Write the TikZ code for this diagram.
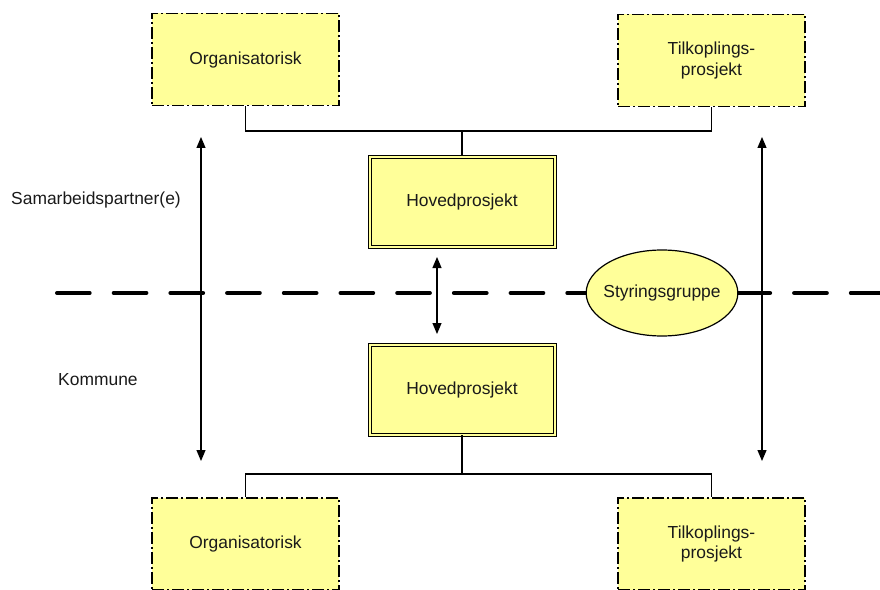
\documentclass[tikz,border=0pt]{standalone}
\usepackage{fontspec}
\setmainfont{Liberation Sans}
\usetikzlibrary{arrows.meta,shapes.geometric}
\definecolor{boxyellow}{HTML}{FFFF99}
\definecolor{txtcol}{HTML}{1A1A1A}
\begin{document}
\begin{tikzpicture}[x=1bp,y=-1bp,
  txt/.style={font=\fontsize{17.5}{21}\selectfont, text=txtcol},
  sidebox/.style={txt, draw, fill=boxyellow, line width=1.3bp,
    dash pattern=on 12bp off 3bp on 2bp off 3bp,
    minimum width=187bp, minimum height=92bp, inner sep=0pt, align=center},
  mainbox/.style={txt, draw, fill=boxyellow, double=boxyellow, double distance=2bp,
    line width=1bp, minimum width=185bp, minimum height=90bp, inner sep=0pt},
  conn/.style={line width=1.2bp},
  dbl/.style={{Triangle[length=11bp,width=9bp]}-{Triangle[length=11bp,width=9bp]}, line width=1.2bp},
  divider/.style={line width=4bp, line cap=round, dash pattern=on 32.7bp off 24bp},
  oval/.style={txt, ellipse, draw, fill=boxyellow, line width=1.2bp,
    minimum width=150bp, minimum height=86bp, inner xsep=-5bp, inner ysep=0pt},
  lbl/.style={txt, anchor=west, inner sep=0pt}
]
\useasboundingbox (0,0) rectangle (880,590);

% divider line
\coordinate (dl) at (57,293);
\coordinate (dr) at (884,293);
\draw[divider] (dl) -- (dr);

% side boxes
\node[sidebox] (tl) at (245.5,59.5) {Organisatorisk};
\node[sidebox] (tr) at (711.5,60.5) {Tilkoplings-\\prosjekt};
\node[sidebox] (bl) at (245.5,544) {Organisatorisk};
\node[sidebox] (br) at (711.5,544) {Tilkoplings-\\prosjekt};

% main boxes
\node[mainbox] (hp1) at (462,202) {Hovedprosjekt};
\node[mainbox] (hp2) at (462,389.5) {Hovedprosjekt};

% ellipse
\node[oval] (sg) at (662,293) {Styringsgruppe};

% labels
\node[lbl] (samar) at (11,200) {Samarbeidspartner(e)};
\node[lbl] (komm) at (58,380) {Kommune};

% tree connectors
\coordinate (tj) at (462,131);
\draw[conn] (tl.south) |- (tj) -| (tr.south);
\draw[conn] (tj) -- (hp1.north);
\coordinate (bj) at (462,474);
\draw[conn] (hp2.south) -- (bj);
\draw[conn] (bl.north) |- (bj) -| (br.north);

% double arrows
\coordinate (la1) at (201,137);
\coordinate (la2) at (201,461);
\draw[dbl] (la1) -- (la2);
\coordinate (ra1) at (762,137);
\coordinate (ra2) at (762,461);
\draw[dbl] (ra1) -- (ra2);
\coordinate (ma1) at (437,257);
\coordinate (ma2) at (437,334);
\draw[dbl] (ma1) -- (ma2);
\end{tikzpicture}
\end{document}
